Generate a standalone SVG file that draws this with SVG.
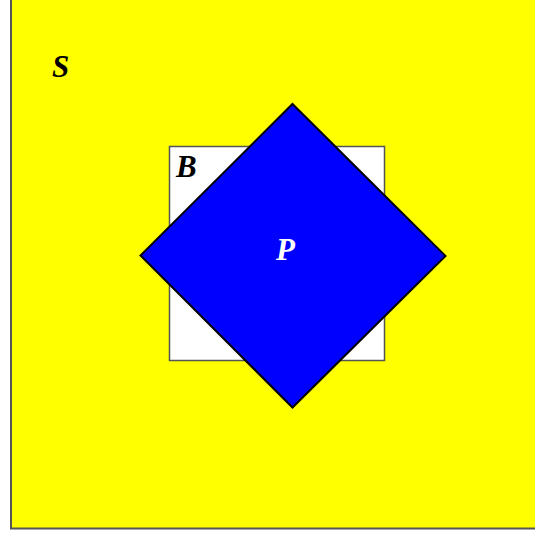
<svg xmlns="http://www.w3.org/2000/svg" width="535" height="533" viewBox="0 0 535 533">
<style>
.lbl{font-family:"Liberation Serif",serif;font-weight:bold;font-style:italic;font-size:31px}
</style>
<rect width="535" height="533" fill="#ffffff"/>
<g id="S">
<rect x="11" y="-2" width="530" height="530.5" fill="#ffff00" stroke="#555" stroke-width="2"/>
<text class="lbl" x="52" y="77" fill="#000">S</text>
</g>
<g id="B">
<rect x="169.5" y="146.5" width="215" height="214" fill="#ffffff" stroke="#555" stroke-width="1.5"/>
<text class="lbl" x="176" y="177" fill="#000">B</text>
</g>
<g id="P">
<polygon points="292.5,104 445.5,256 292.5,407.5 140.5,255.5" fill="#0000ff" stroke="#000" stroke-width="2"/>
<text class="lbl" x="276" y="260" fill="#fff">P</text>
</g>
<g id="connectors"/>
</svg>
